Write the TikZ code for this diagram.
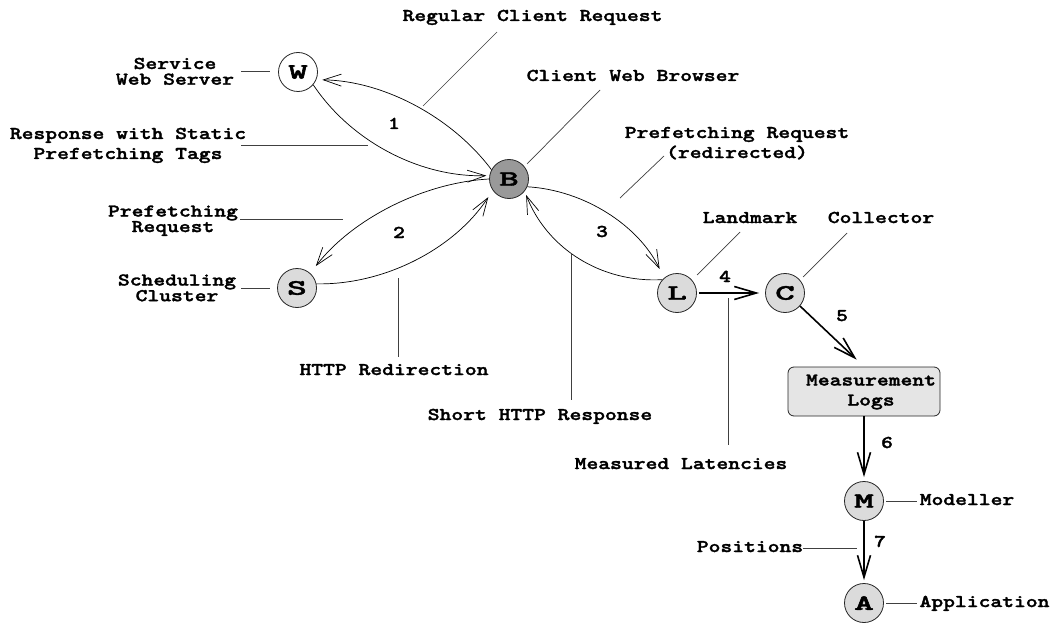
\documentclass[tikz,border=0pt]{standalone}
\usepackage{fontspec}
\usepackage{graphicx}
\usetikzlibrary{arrows.meta}

% heavy typewriter face used for every text
\newfontfamily\labfont{lmmonolt10-bold}[Extension=.otf, FakeBold=1.6]
% label text, widened; optional argument is the line pitch
\newcommand\lbl[2][20pt]{\scalebox{1.25}[1]{\fontsize{18pt}{#1}\selectfont\labfont\begin{tabular}{@{}c@{}}#2\end{tabular}}}
% letter inside a station circle
\newcommand\ltr[1]{\scalebox{1.7}[1]{\fontsize{22pt}{22pt}\selectfont\labfont #1}}

\begin{document}
\begin{tikzpicture}[x=1pt,y=-1pt,
  station/.style={circle, draw=black!85, line width=0.8pt, minimum size=39pt, inner sep=0pt},
  txt/.style={inner sep=0pt},
  flow/.style={line width=0.7pt, -{Straight Barb[length=18pt,width=12pt]}},
  bold flow/.style={line width=1.6pt, -{Straight Barb[length=22pt,width=13pt]}},
  leader/.style={line width=0.7pt, draw=black!75}]

\fill[white] (0,0) rectangle (1052,623);
\useasboundingbox (0,0) rectangle (1052,623);

% stations
\node[station, fill=white]    (W) at (298,72)  {\ltr{W}};
\node[station, fill=black!40] (B) at (509,179) {\ltr{B}};
\node[station, fill=black!14] (S) at (297,288) {\ltr{S}};
\node[station, fill=black!14] (L) at (677,293) {\ltr{L}};
\node[station, fill=black!14] (C) at (785,293) {\ltr{C}};
\node[station, fill=black!14] (M) at (864,501) {\ltr{M}};
\node[station, fill=black!14] (A) at (864,603) {\ltr{A}};
\node[draw=black!85, fill=black!10, rounded corners=6pt, line width=0.8pt,
      minimum width=152pt, minimum height=49pt, inner sep=0pt]
      (logs) at (864,391.5) {\hspace*{14pt}\lbl{Measurement\\Logs}};

% labels
\node[txt] (tReg)   at (532.5,17) {\lbl{Regular Client Request}};
\node[txt] (tCWB)   at (633,77)   {\lbl{Client Web Browser}};
\node[txt] (tSWS)   at (175,73.5) {\lbl[15pt]{Service\\Web Server}};
\node[txt] (tResp)  at (128,145)  {\lbl{Response with Static\\Prefetching Tags}};
\node[txt] (tPReq)  at (173,221)  {\lbl[15pt]{Prefetching\\Request}};
\node[txt] (tSched) at (177,290)  {\lbl[15pt]{Scheduling\\Cluster}};
\node[txt] (tRedir) at (394,371)  {\lbl{HTTP Redirection}};
\node[txt] (tPRR)   at (737,144)  {\lbl{Prefetching Request\\(redirected)}};
\node[txt] (tShort) at (540,416)  {\lbl{Short HTTP Response}};
\node[txt] (tLand)  at (750,219)  {\lbl{Landmark}};
\node[txt] (tColl)  at (881,219)  {\lbl{Collector}};
\node[txt] (tLat)   at (681,465)  {\lbl{Measured Latencies}};
\node[txt] (tMod)   at (967,501)  {\lbl{Modeller}};
\node[txt] (tPos)   at (750,548)  {\lbl{Positions}};
\node[txt] (tApp)   at (984.5,603){\lbl{Application}};

% step numbers
\node[txt] (n1) at (394,125) {\lbl{1}};
\node[txt] (n2) at (399,234) {\lbl{2}};
\node[txt] (n3) at (602,233) {\lbl{3}};
\node[txt] (n4) at (725,278) {\lbl{4}};
\node[txt] (n5) at (842,317) {\lbl{5}};
\node[txt] (n6) at (887,444) {\lbl{6}};
\node[txt] (n7) at (880,543) {\lbl{7}};

% request / response arcs
\draw[flow, shorten >=6pt] (B.152) .. controls +(-39.8,-53.1) and +(66.4,0.9) .. (W.-23.5);
\draw[flow, shorten >=3pt] (W.-40) .. controls +(38,57.1) and +(-68.6,2.1) .. (B.170);
\draw[flow, shorten >=9pt] (B.180) .. controls +(-67.1,3.7) and +(41.1,-53.3) .. (S.48);
\draw[flow, shorten >=8pt] (S.12) .. controls +(68.9,1.2) and +(-37.7,57.6) .. (B.215);
\draw[flow, shorten >=10pt] (B.-23) .. controls +(57.7,3.4) and +(-25.1,-52) .. (L.131);
\draw[flow, shorten >=4pt] (L.138) .. controls +(-61.2,3.3) and +(22.2,57.1) .. (B.-38);

% measurement pipeline
\draw[bold flow, shorten <=2pt, shorten >=6pt] (L.east) -- (C.west);
\draw[bold flow, shorten >=10pt] (C.-41) -- (logs.north);
\draw[bold flow, shorten >=4pt] (logs.south) -- (M.north);
\draw[bold flow, shorten >=3pt] (M.south) -- (A.north);

% leader lines
\coordinate (r1) at (497,32);  \coordinate (r2) at (423,106);
\coordinate (b1) at (600,90);  \coordinate (b2) at (527,164);
\coordinate (w1) at (241,71);  \coordinate (w2) at (270,71);
\coordinate (p1) at (241,145); \coordinate (p2) at (368,145);
\coordinate (q1) at (240,219); \coordinate (q2) at (343,219);
\coordinate (s1) at (241,288); \coordinate (s2) at (270,288);
\coordinate (h1) at (398,278); \coordinate (h2) at (398,357);
\coordinate (x1) at (664,156); \coordinate (x2) at (620,198);
\coordinate (y1) at (571,253); \coordinate (y2) at (571,400);
\coordinate (l1) at (740,232); \coordinate (l2) at (697,275);
\coordinate (c1) at (847,233); \coordinate (c2) at (803,277);
\coordinate (m1) at (728,298); \coordinate (m2) at (728,445);
\coordinate (o1) at (886,501); \coordinate (o2) at (917,501);
\coordinate (t1) at (803,548); \coordinate (t2) at (857,548);
\coordinate (a1) at (886,603); \coordinate (a2) at (917,603);
\foreach \u/\v in {r1/r2,b1/b2,w1/w2,p1/p2,q1/q2,s1/s2,h1/h2,x1/x2,y1/y2,l1/l2,c1/c2,m1/m2,o1/o2,t1/t2,a1/a2}
  \draw[leader] (\u) -- (\v);
\end{tikzpicture}
\end{document}
